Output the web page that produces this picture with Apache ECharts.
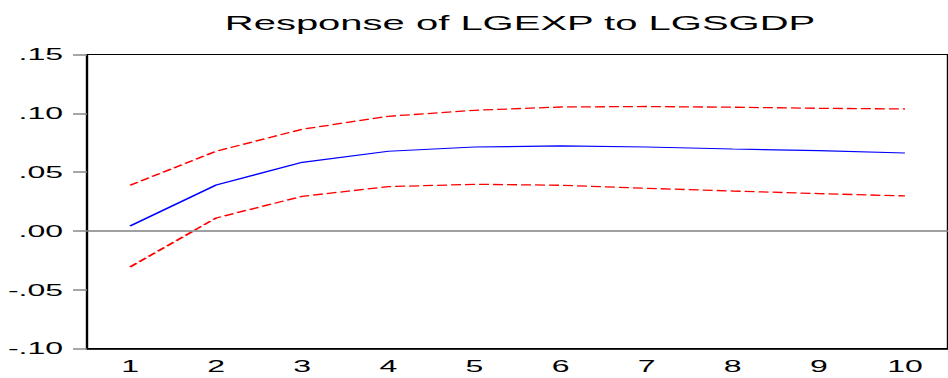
<!DOCTYPE html>
<html>
<head>
<meta charset="utf-8">
<script src="https://cdn.jsdelivr.net/npm/echarts@6/dist/echarts.min.js"></script>
<style>
  html, body { margin: 0; padding: 0; background: #fff; overflow: hidden; }
  /* the graph is laid out at half width and stretched horizontally */
  #chart { width: 474px; height: 378px; transform: scaleX(2); transform-origin: 0 0; }
</style>
</head>
<body>
<div id="chart"></div>
<script>
// Impulse response over 10 periods with +/- 2 S.E. bands
const periods = ['1', '2', '3', '4', '5', '6', '7', '8', '9', '10'];
const response = [0.0043, 0.0391, 0.0584, 0.0678, 0.0714, 0.0723, 0.0714, 0.0697, 0.0683, 0.0663];
const upperBand = [0.0389, 0.0678, 0.0865, 0.0975, 0.1026, 0.1054, 0.1058, 0.1052, 0.1043, 0.1037];
const lowerBand = [-0.0306, 0.0111, 0.0295, 0.0377, 0.0397, 0.0389, 0.0363, 0.0340, 0.0318, 0.0298];
const yTickLabels = ['-.10', '-.05', '.00', '.05', '.10', '.15'];
const titleText = 'Response of LGEXP to LGSGDP';

const font = '"Liberation Sans", Arial, sans-serif';
const chart = echarts.init(document.getElementById('chart'), null, { renderer: 'svg' });

chart.setOption({
  animation: false,
  backgroundColor: '#fff',
  title: {
    text: titleText,
    left: 255,
    top: 8,
    textAlign: 'center',
    textStyle: { fontFamily: font, fontSize: 20, fontWeight: 'normal', color: '#000' }
  },
  grid: {
    left: 43.5, top: 54.5, width: 435.5, height: 294.2,
    show: true, borderColor: '#000', borderWidth: 1.2, backgroundColor: 'transparent'
  },
  xAxis: {
    type: 'category',
    data: periods,
    boundaryGap: true,
    axisLine: { onZero: false, lineStyle: { color: '#000', width: 1.6 } },
    axisTick: { length: 7, lineStyle: { color: '#444', width: 0.8 } },
    axisLabel: { fontFamily: font, fontSize: 16, color: '#000', margin: 10 },
    splitLine: { show: false }
  },
  yAxis: {
    type: 'value',
    min: -0.10, max: 0.15, interval: 0.05,
    axisLine: { show: true, lineStyle: { color: '#000', width: 1 } },
    axisTick: { show: true, length: 7, lineStyle: { color: '#888', width: 1.5 } },
    axisLabel: {
      fontFamily: font, fontSize: 16, color: '#000', margin: 12,
      formatter: (v, i) => yTickLabels[i]
    },
    splitLine: { show: false }
  },
  series: [
    {
      type: 'line', data: [], z: 1, silent: true,
      markLine: {
        silent: true, symbol: 'none', label: { show: false },
        lineStyle: { color: '#808080', width: 1.6, type: 'solid' },
        data: [{ yAxis: 0 }]
      }
    },
    {
      name: 'upper', type: 'line', data: upperBand, symbol: 'none', z: 3,
      lineStyle: { color: '#ff0000', width: 1.3, type: [5, 2] }
    },
    {
      name: 'response', type: 'line', data: response, symbol: 'none', z: 3,
      lineStyle: { color: '#0000ff', width: 1.2 }
    },
    {
      name: 'lower', type: 'line', data: lowerBand, symbol: 'none', z: 3,
      lineStyle: { color: '#ff0000', width: 1.3, type: [5, 2] }
    }
  ]
});
</script>
</body>
</html>
